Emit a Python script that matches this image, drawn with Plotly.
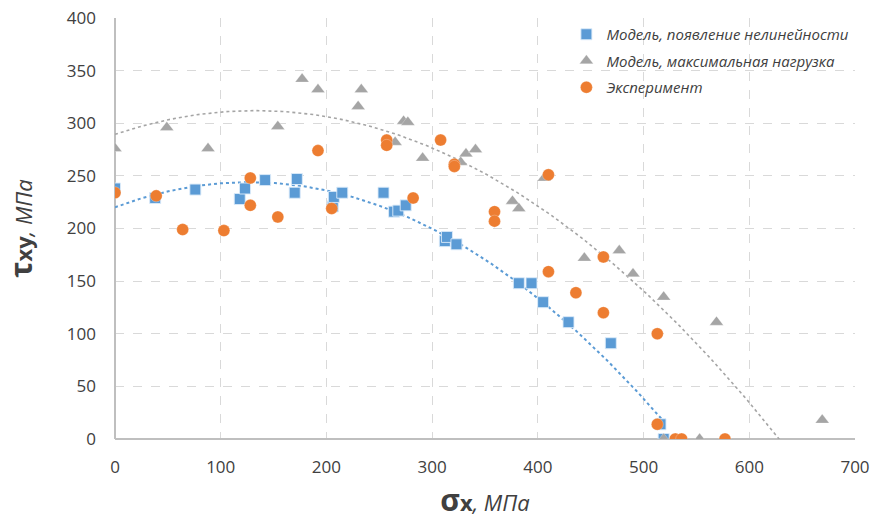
import numpy as np
import plotly.graph_objects as go

# Model: onset of nonlinearity (sigma_x, tau_xy), MPa
onset_x = [0, 38, 76, 118, 123, 142, 170, 172, 206, 207, 215, 254, 264, 268, 275,
           312, 314, 323, 382, 394, 405, 429, 469, 516, 519]
onset_y = [238, 229, 237, 228, 238, 246, 234, 247, 221, 230, 234, 234, 216, 217, 222,
           188, 192, 185, 148, 148, 130, 111, 91, 14, 0]

# Model: maximum load
maxload_x = [0, 49, 88, 154, 177, 192, 230, 233, 265, 273, 277, 291, 327, 332, 341,
             376, 382, 406, 444, 477, 490, 519, 519, 553, 569, 669]
maxload_y = [276, 296, 276, 297, 342, 332, 316, 332, 282, 302, 301, 267, 263, 271, 275,
             226, 219, 248, 172, 179, 157, 135, 0, 0, 111, 18]

# Experiment
exp_x = [0, 39, 64, 103, 128, 128, 154, 192, 205, 257, 257, 282, 308, 321, 321,
         359, 359, 410, 410, 436, 462, 462, 513, 513, 530, 536, 577]
exp_y = [234, 231, 199, 198, 248, 222, 211, 274, 219, 284, 279, 229, 284, 261, 259,
         216, 207, 251, 159, 139, 173, 120, 100, 14, 0, 0, 0]

x_ticks = [0, 100, 200, 300, 400, 500, 600, 700]
y_ticks = [0, 50, 100, 150, 200, 250, 300, 350, 400]

BLUE = "#5B9BD5"
GRAY = "#A5A5A5"
ORANGE = "#ED7D31"
FONT = "Open Sans"


def quad_trend(xs, ys):
    """Second-order polynomial trendline over the x-span of a series."""
    coef = np.polyfit(xs, ys, 2)
    xx = np.linspace(min(xs), max(xs), 200)
    return xx, np.polyval(coef, xx)


fig = go.Figure()

tx, ty = quad_trend(onset_x, onset_y)
fig.add_trace(go.Scatter(x=tx, y=ty, mode="lines", showlegend=False, hoverinfo="skip",
                         line=dict(color=BLUE, width=2, dash="dot")))
tx, ty = quad_trend(maxload_x, maxload_y)
fig.add_trace(go.Scatter(x=tx, y=ty, mode="lines", showlegend=False, hoverinfo="skip",
                         line=dict(color=GRAY, width=1.6, dash="dot")))

fig.add_trace(go.Scatter(
    x=onset_x, y=onset_y, mode="markers", name="Модель, появление нелинейности",
    legendgroup="a",
    marker=dict(symbol="square", size=11, color=BLUE,
                line=dict(color="rgba(220,235,250,0.9)", width=1))))
fig.add_trace(go.Scatter(
    x=maxload_x, y=maxload_y, mode="markers", name="Модель, максимальная нагрузка",
    legendgroup="b",
    marker=dict(symbol="triangle-up", size=12, color=GRAY,
                line=dict(color="rgba(255,255,255,0.5)", width=0.5))))
fig.add_trace(go.Scatter(
    x=exp_x, y=exp_y, mode="markers", name="Эксперимент",
    legendgroup="c",
    marker=dict(symbol="circle", size=12, color=ORANGE,
                line=dict(color="rgba(255,255,255,0.5)", width=0.5))))

axis_common = dict(
    showgrid=True, gridcolor="#D9D9D9", griddash="dash", gridwidth=1,
    zeroline=True, zerolinecolor="#BFBFBF", zerolinewidth=1.5,
    showline=False, ticks="", automargin=False,
    tickfont=dict(family=FONT, size=17, color="#404040"),
)

fig.update_layout(
    width=883, height=523,
    margin=dict(l=115, r=28, t=18, b=84, autoexpand=False),
    paper_bgcolor="white", plot_bgcolor="white",
    font=dict(family=FONT, color="#404040"),
    xaxis=dict(range=[0, 700], tickvals=x_ticks, ticklabelstandoff=16,
               title=dict(text="<b><span style='font-size:30px'>σ</span>x</b><i>, МПа</i>",
                          font=dict(family=FONT, size=22, color="#404040"), standoff=18),
               **axis_common),
    yaxis=dict(range=[0, 400], tickvals=y_ticks, ticklabelstandoff=18,
               title=dict(text="<b><span style='font-size:30px'>τ</span>xy</b><i>, МПа</i>",
                          font=dict(family=FONT, size=22, color="#404040"), standoff=32),
               **axis_common),
    legend=dict(x=0.61, y=1.0, xanchor="left", yanchor="top",
                bgcolor="rgba(0,0,0,0)", traceorder="grouped", tracegroupgap=4,
                font=dict(family=FONT, size=15, color="#404040", style="italic"),
                itemwidth=30),
)

fig.write_html("out.html")
